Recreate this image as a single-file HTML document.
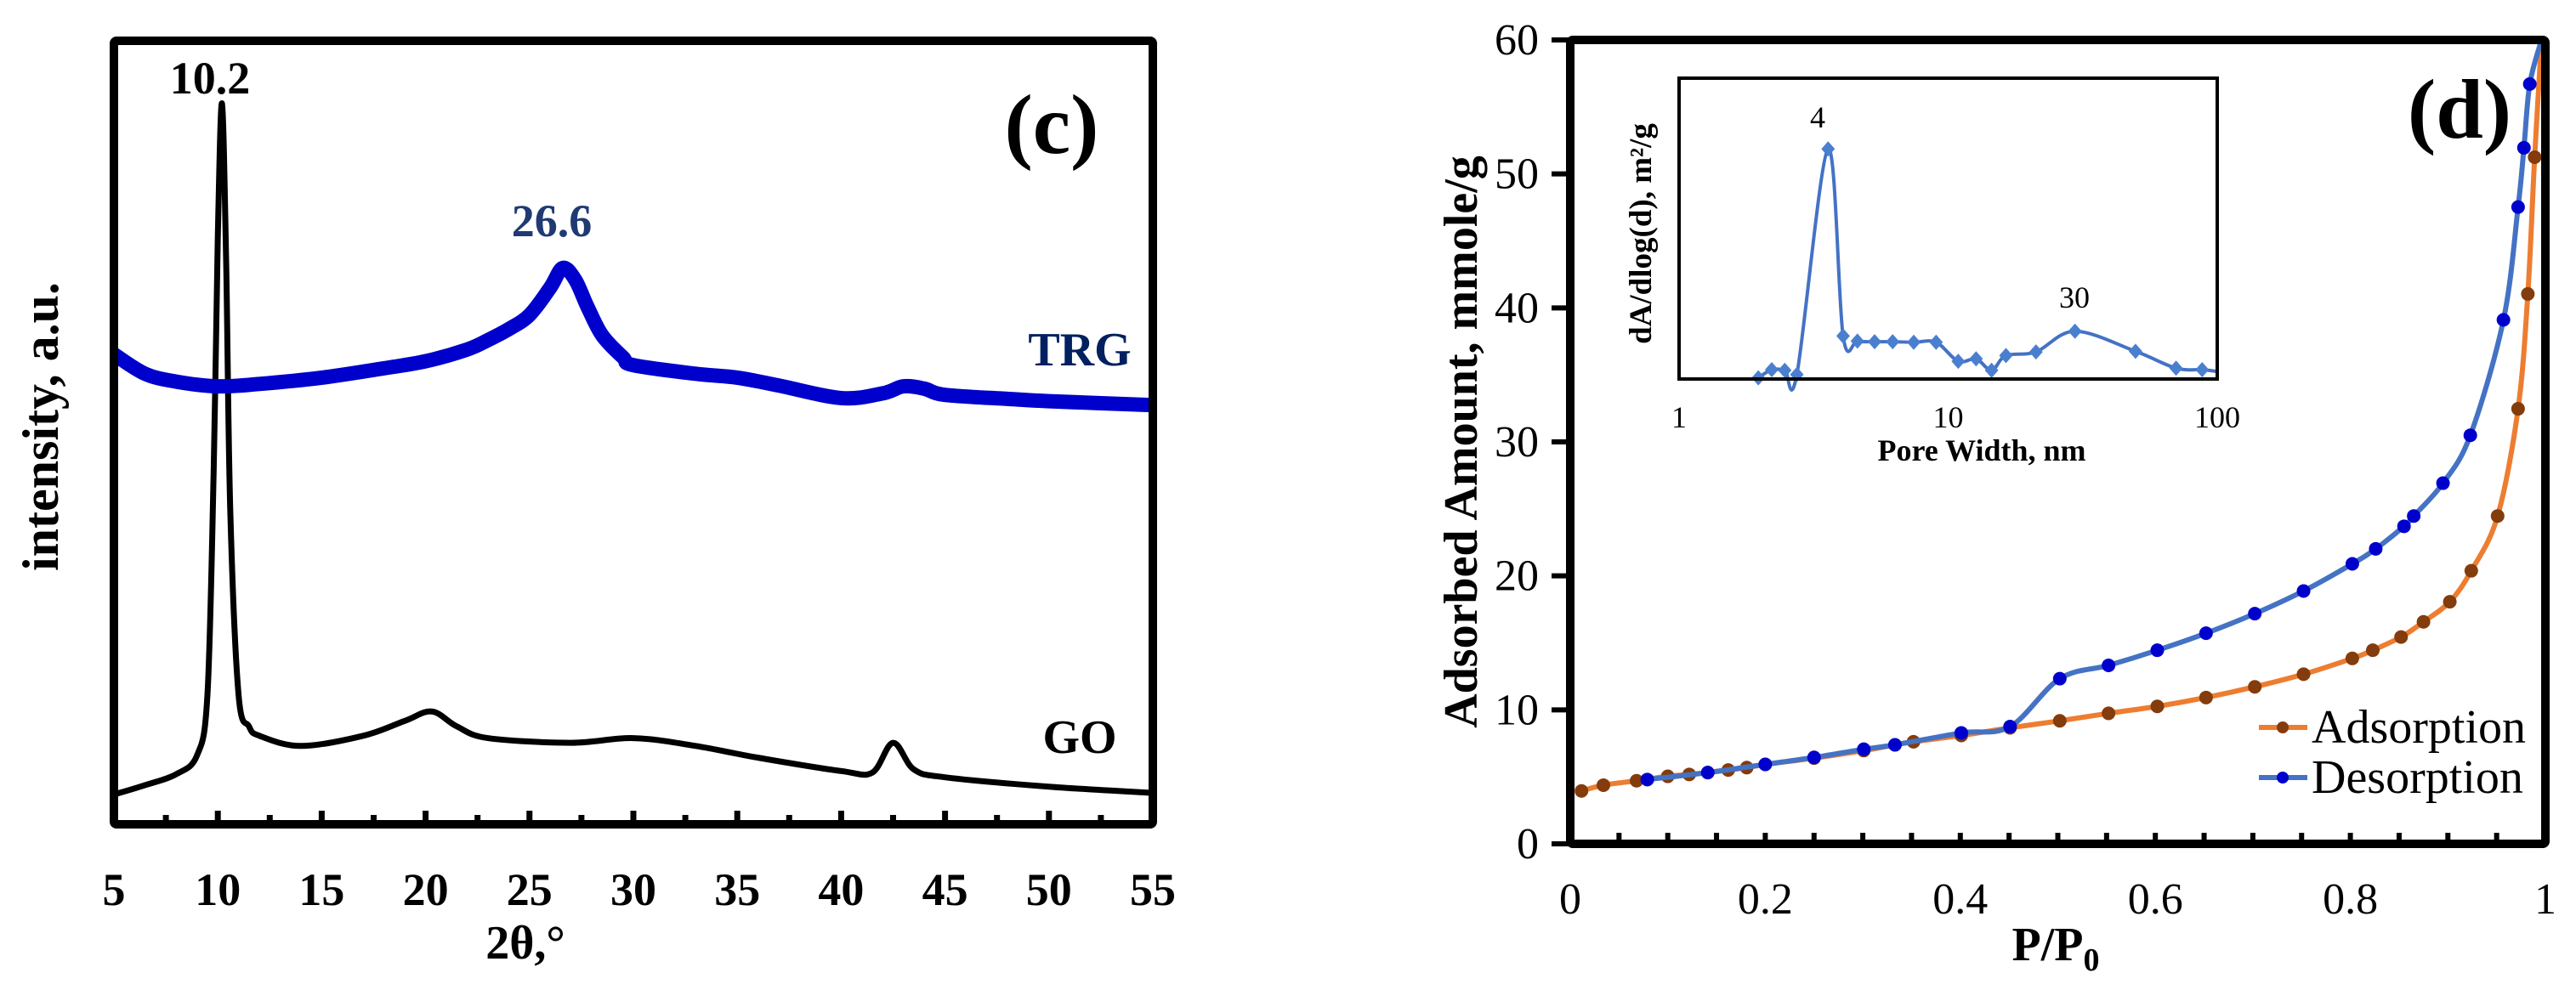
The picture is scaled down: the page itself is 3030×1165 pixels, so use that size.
<!DOCTYPE html>
<html><head><meta charset="utf-8"><style>
html,body{margin:0;padding:0;background:#fff;}
svg{display:block;}
text{font-family:"Liberation Serif",serif;}
</style></head><body>
<svg id="fig" width="3030" height="1165" viewBox="0 0 3030 1165" xmlns="http://www.w3.org/2000/svg">
<g id="left"></g>
<g id="right"></g>
</svg>
<script>
// ---- Chart (c) XRD data ----
const goTheta = [5,6.5,8,9,9.5,9.8,10.0,10.2,10.4,10.6,11,11.5,12,14,17,19,20.3,21.5,23,27,30,33,36,40,41.5,42.5,43.5,45,50,55];
const goInt   = [3.8,5.0,6.4,8.8,16.5,45,75,92,72,40,16.5,12.5,11.3,10,11.3,13.2,14.4,12.5,11,10.4,11,10,8.5,6.8,6.6,10.4,7,6,4.8,4];
const trgTheta = [5,6.5,8,10,12,15,18,20,22,23,24,25,26,26.6,27.2,27.8,28.5,29.5,30,33,35,37,40,42,43,44,45,48,50,55];
const trgInt   = [60,57.5,56.5,55.9,56.2,57,58.2,59.1,60.6,61.8,63.2,65,68.5,71,69.5,66,62.4,59.6,58.6,57.5,57,56,54.4,55,55.9,55.6,54.8,54.3,54,53.5];
const cTicks = [5,10,15,20,25,30,35,40,45,50,55];

// ---- Chart (d) isotherm data ----
const adsP = [0.0115,0.034,0.068,0.10,0.122,0.141,0.162,0.181,0.2,0.25,0.301,0.333,0.352,0.401,0.451,0.502,0.552,0.602,0.652,0.702,0.752,0.802,0.823,0.852,0.875,0.902,0.924,0.951,0.972,0.982,0.989];
const adsV = [3.95,4.38,4.71,5.04,5.18,5.32,5.51,5.69,5.93,6.40,6.96,7.39,7.62,8.09,8.66,9.18,9.74,10.26,10.92,11.72,12.66,13.84,14.45,15.44,16.57,18.07,20.38,24.47,32.47,41.04,51.25];
const adsEnd = [0.996,60];
const desP = [0.079,0.141,0.2,0.25,0.301,0.333,0.401,0.451,0.502,0.552,0.602,0.652,0.702,0.752,0.802,0.826,0.855,0.865,0.895,0.923,0.957,0.972,0.978,0.984];
const desV = [4.80,5.32,5.93,6.45,7.06,7.39,8.28,8.75,12.33,13.32,14.45,15.72,17.18,18.87,20.90,22.02,23.70,24.47,26.92,30.49,39.11,47.53,51.95,56.71];
const desEnd = [0.996,60];
const dXTicks = [0,0.2,0.4,0.6,0.8,1];
const dXTickLabels = ["0","0.2","0.4","0.6","0.8","1"];
const dYTicks = [0,10,20,30,40,50,60];

// ---- Inset pore distribution ----
const poreW = [1.97,2.21,2.47,2.74,3.58,4.07,4.6,5.33,6.22,7.45,9.02,10.9,12.7,14.5,16.4,21.2,29.6,49.7,70.3,87.9];
const poreA = [0.4,3.1,2.9,1.5,76.5,14.3,12.6,12.4,12.4,12.2,12.2,5.9,6.7,2.9,7.8,9.0,15.9,9.2,3.6,3.1];
const poreEnd = [100,2.5];
const insetTicks = [1,10,100];

const NS="http://www.w3.org/2000/svg";
function mk(parent,tag,attrs,txt){const e=document.createElementNS(NS,tag);for(const k in attrs)e.setAttribute(k,attrs[k]);if(txt!==undefined)e.textContent=txt;parent.appendChild(e);return e;}
function smooth(pts){let d="M"+pts[0][0]+","+pts[0][1];for(let i=0;i<pts.length-1;i++){const p0=pts[i-1]||pts[i],p1=pts[i],p2=pts[i+1],p3=pts[i+2]||p2;const t=6;d+=" C"+(p1[0]+(p2[0]-p0[0])/t)+","+(p1[1]+(p2[1]-p0[1])/t)+" "+(p2[0]-(p3[0]-p1[0])/t)+","+(p2[1]-(p3[1]-p1[1])/t)+" "+p2[0]+","+p2[1];}return d;}

// ===== Left chart =====
const L=document.getElementById('left');
const cx0=134,cx1=1356,cy0=48,cy1=970;
const cX=v=>cx0+(v-5)/50*(cx1-cx0);
const cY=v=>cy1-v/100*(cy1-cy0);
let goPath=mk(L,'path',{d:smooth(goTheta.map((t,i)=>[cX(t),cY(goInt[i])])),fill:'none',stroke:'#000','stroke-width':7,'stroke-linejoin':'round'});


let trgPath=mk(L,'path',{d:smooth(trgTheta.map((t,i)=>[cX(t),cY(trgInt[i])])),fill:'none',stroke:'#0000cc','stroke-width':17,'stroke-linejoin':'round'});


for(let v=5;v<=55;v+=2.5){
  const maj=(v%5===0);
  let t=mk(L,'line',{x1:cX(v),x2:cX(v),y1:cy1,y2:cy1-(maj?16:11),stroke:'#000','stroke-width':7});
  
  
}
cTicks.forEach(v=>{
  let t=mk(L,'text',{x:cX(v),y:1065,'font-size':54,'font-weight':'bold','text-anchor':'middle'},String(v));
  
  
});
let lf=mk(L,'rect',{x:cx0,y:cy0,width:cx1-cx0,height:cy1-cy0,fill:'none',stroke:'#000','stroke-width':10,rx:3});


[['10.2',247,110,54,'#000','peak-label-10-2'],['26.6',649,278,54,'#1f3a73','peak-label-26-6'],['TRG',1270,430,56,'#002060','trg-label'],['GO',1270,886,56,'#000','go-label'],['(c)',1237,180,100,'#000','panel-label-c'],['2θ,°',618,1128,56,'#000','x-axis-title']].forEach(a=>{
  let t=mk(L,'text',{x:a[1],y:a[2],'font-size':a[3],'font-weight':'bold','text-anchor':'middle',fill:a[4]},a[0]);
  
  
});
let lyt=mk(L,'text',{x:0,y:0,'font-size':60,'font-weight':'bold','text-anchor':'middle',transform:'translate(68,502) rotate(-90)'},'intensity, a.u.');



// ===== Right chart =====
const R=document.getElementById('right');
const dx0=1847,dx1=2994,dy0=47,dy1=993;
const dX=v=>dx0+v*(dx1-dx0);
const dY=v=>dy1-v/60*(dy1-dy0);
for(let v=0.05;v<1;v+=0.05){
  let t=mk(R,'line',{x1:dX(v),x2:dX(v),y1:dy1,y2:dy1-13,stroke:'#000','stroke-width':6});
  
  
}
dYTicks.forEach(v=>{
  let t=mk(R,'line',{x1:dx0-22,x2:dx0,y1:dY(v),y2:dY(v),stroke:'#000','stroke-width':6});
  
  
  let l=mk(R,'text',{x:1810,y:dY(v)+17,'font-size':52,'text-anchor':'end'},String(v));
  
  
});
dXTicks.forEach((v,i)=>{
  let l=mk(R,'text',{x:dX(v),y:1075,'font-size':52,'text-anchor':'middle'},dXTickLabels[i]);
  
  
});
const adsPts=adsP.map((p,i)=>[dX(p),dY(adsV[i])]).concat([[dX(adsEnd[0]),dY(adsEnd[1])]]);
let ap=mk(R,'path',{d:smooth(adsPts),fill:'none',stroke:'#ed7d31','stroke-width':6});


adsP.forEach((p,i)=>{
  let c=mk(R,'circle',{cx:dX(p),cy:dY(adsV[i]),r:8,fill:'#843c0c'});
  
  
});
const desPts=desP.map((p,i)=>[dX(p),dY(desV[i])]).concat([[dX(desEnd[0]),dY(desEnd[1])]]);
let dp=mk(R,'path',{d:smooth(desPts),fill:'none',stroke:'#4472c4','stroke-width':6});


desP.forEach((p,i)=>{
  let c=mk(R,'circle',{cx:dX(p),cy:dY(desV[i]),r:8,fill:'#0000cd'});
  
  
});
let rf=mk(R,'rect',{x:dx0,y:dy0,width:dx1-dx0,height:dy1-dy0,fill:'none',stroke:'#000','stroke-width':10,rx:3});


// legend
[['Adsorption',856,'#ed7d31','#843c0c','legend-adsorption'],['Desorption',915,'#4472c4','#0000cd','legend-desorption']].forEach(a=>{
  let g=mk(R,'g',{});
  
  
  mk(g,'line',{x1:2657,x2:2714,y1:a[1],y2:a[1],stroke:a[2],'stroke-width':6});
  mk(g,'circle',{cx:2685,cy:a[1],r:7,fill:a[3]});
  mk(g,'text',{x:2719,y:a[1]+18,'font-size':56},a[0]);
});
let dpl=mk(R,'text',{x:2893,y:162,'font-size':100,'font-weight':'bold','text-anchor':'middle'},'(d)');


let xt=mk(R,'text',{x:2418,y:1130,'font-size':56,'font-weight':'bold','text-anchor':'middle'},'P/P');


mk(xt,'tspan',{'font-size':38,dy:12},'0');
let yt=mk(R,'text',{x:0,y:0,'font-size':56,'font-weight':'bold','text-anchor':'middle',transform:'translate(1737,520) rotate(-90)'},'Adsorbed Amount, mmole/g');



// inset
const ix0=1975,ix1=2608,iy0=92,iy1=446;
const iX=v=>ix0+Math.log10(v)/2*(ix1-ix0);
const iY=v=>iy1-v/100*(iy1-iy0);
const ipts=poreW.map((w,i)=>[iX(w),iY(poreA[i])]).concat([[iX(poreEnd[0]),iY(poreEnd[1])]]);
let ipl=mk(R,'path',{d:smooth(ipts),fill:'none',stroke:'#4472c4','stroke-width':4});


poreW.forEach((w,i)=>{
  const x=iX(w),y=iY(poreA[i]);
  let m=mk(R,'path',{d:`M${x},${y-9} L${x+8},${y} L${x},${y+9} L${x-8},${y} Z`,fill:'#4a7fd0'});
  
  
});
let inf=mk(R,'rect',{x:ix0,y:iy0,width:ix1-ix0,height:iy1-iy0,fill:'none',stroke:'#000','stroke-width':4});


insetTicks.forEach(v=>{
  let t=mk(R,'text',{x:iX(v),y:503,'font-size':36,'text-anchor':'middle'},String(v));
  
  
});
[['4',2138,150,36,'normal','inset-peak-label-4'],['30',2440,362,36,'normal','inset-peak-label-30'],['Pore Width, nm',2331,542,36,'bold','inset-x-axis-title']].forEach(a=>{
  let t=mk(R,'text',{x:a[1],y:a[2],'font-size':a[3],'font-weight':a[4],'text-anchor':'middle'},a[0]);
  
  
});
let iyt=mk(R,'text',{x:0,y:0,'font-size':37,'font-weight':'bold','text-anchor':'middle',transform:'translate(1942,275) rotate(-90)'},'dA/dlog(d), m²/g');


</script>
</body></html>
